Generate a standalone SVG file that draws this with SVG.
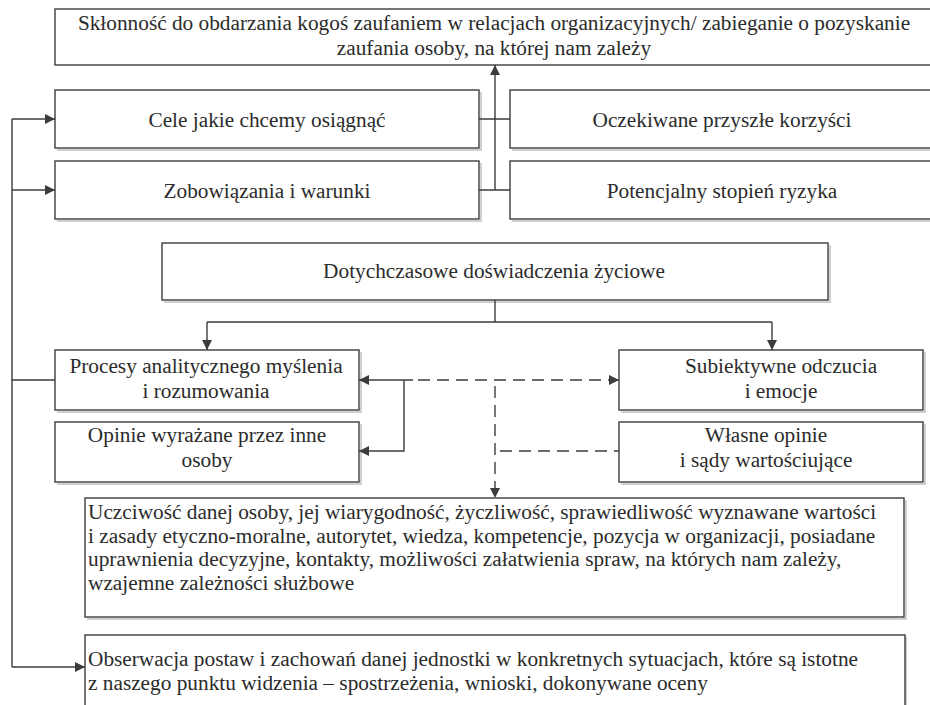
<svg xmlns="http://www.w3.org/2000/svg" width="930" height="705" viewBox="0 0 930 705">
<defs>
<style>
.box{fill:#fff;stroke:#3c3c3c;stroke-width:1.4}
.sh{fill:none;stroke:#d0d0d0;stroke-width:2}
.t{font-family:"Liberation Serif","Times New Roman",serif;font-size:21.3px;fill:#2b2b2b}
.c{text-anchor:middle}
.ln{fill:none;stroke:#3c3c3c;stroke-width:1.4}
.ds{stroke-dasharray:12 7}
</style>
<marker id="ah" viewBox="0 0 10 10" refX="10" refY="5" markerWidth="10" markerHeight="10" markerUnits="userSpaceOnUse" orient="auto">
<path d="M0,0 L10,5 L0,10 z" fill="#3c3c3c"/>
</marker>
</defs>
<rect width="930" height="705" fill="#fff"/>

<g id="n-top">
<rect class="box" x="55" y="9" width="890" height="56"/>
<text class="t c" x="494" y="30">Skłonność do obdarzania kogoś zaufaniem w relacjach organizacyjnych/ zabieganie o pozyskanie</text>
<text class="t c" x="494" y="55">zaufania osoby, na której nam zależy</text>
</g>
<g id="n-cele">
<path class="sh" d="M57,150 H481 V92"/>
<rect class="box" x="55" y="90" width="424" height="58"/>
<text class="t c" x="267" y="127">Cele jakie chcemy osiągnąć</text>
</g>
<g id="n-oczek">
<path class="sh" d="M512,150 H940"/>
<rect class="box" x="510" y="90" width="430" height="58"/>
<text class="t c" x="722" y="127">Oczekiwane przyszłe korzyści</text>
</g>
<g id="n-zobow">
<path class="sh" d="M57,221 H481 V163"/>
<rect class="box" x="55" y="161" width="424" height="58"/>
<text class="t c" x="267" y="198">Zobowiązania i warunki</text>
</g>
<g id="n-ryzyko">
<path class="sh" d="M512,221 H940"/>
<rect class="box" x="510" y="161" width="430" height="58"/>
<text class="t c" x="722" y="198">Potencjalny stopień ryzyka</text>
</g>
<g id="n-dotych">
<path class="sh" d="M164,302 H830 V245"/>
<rect class="box" x="162" y="243" width="666" height="57"/>
<text class="t c" x="494" y="278">Dotychczasowe doświadczenia życiowe</text>
</g>
<g id="n-procesy">
<path class="sh" d="M57,412 H361 V352"/>
<rect class="box" x="55" y="350" width="304" height="60"/>
<text class="t c" x="206" y="373">Procesy analitycznego myślenia</text>
<text class="t c" x="206" y="398">i rozumowania</text>
</g>
<g id="n-subiekt">
<path class="sh" d="M621,412 H925 V352"/>
<rect class="box" x="619" y="350" width="304" height="60"/>
<text class="t c" x="781" y="373">Subiektywne odczucia</text>
<text class="t c" x="781" y="398">i emocje</text>
</g>
<g id="n-opinie">
<path class="sh" d="M57,484 H361 V424"/>
<rect class="box" x="55" y="422" width="304" height="60"/>
<text class="t c" x="207" y="442">Opinie wyrażane przez inne</text>
<text class="t c" x="207" y="467">osoby</text>
</g>
<g id="n-wlasne">
<path class="sh" d="M621,484 H925 V424"/>
<rect class="box" x="619" y="422" width="304" height="60"/>
<text class="t c" x="766" y="442">Własne opinie</text>
<text class="t c" x="766" y="467">i sądy wartościujące</text>
</g>
<g id="n-uczc">
<path class="sh" d="M87,619 H906 V500"/>
<rect class="box" x="85" y="498" width="819" height="119"/>
<text class="t" x="88" y="519">Uczciwość danej osoby, jej wiarygodność, życzliwość, sprawiedliwość wyznawane wartości</text>
<text class="t" x="88" y="542.5">i zasady etyczno-moralne, autorytet, wiedza, kompetencje, pozycja w organizacji, posiadane</text>
<text class="t" x="88" y="566">uprawnienia decyzyjne, kontakty, możliwości załatwienia spraw, na których nam zależy,</text>
<text class="t" x="88" y="589.5">wzajemne zależności służbowe</text>
</g>
<g id="n-obs">
<path class="sh" d="M906,637 V710"/>
<rect class="box" x="85" y="635" width="820" height="90"/>
<text class="t" x="88" y="666">Obserwacja postaw i zachowań danej jednostki w konkretnych sytuacjach, które są istotne</text>
<text class="t" x="88" y="690">z naszego punktu widzenia – spostrzeżenia, wnioski, dokonywane oceny</text>
</g>

<g id="connectors">
<path class="ln" d="M55,380 H12 V667"/>
<path class="ln" d="M12,380 V119"/>
<path class="ln" d="M12,119 H55" marker-end="url(#ah)"/>
<path class="ln" d="M12,190 H55" marker-end="url(#ah)"/>
<path class="ln" d="M12,667 H85" marker-end="url(#ah)"/>
<path class="ln" d="M479,119 H510 M479,190 H510"/>
<path class="ln" d="M495,190 V65" marker-end="url(#ah)"/>
<path class="ln" d="M495,300 V322 M207,322 H772"/>
<path class="ln" d="M207,322 V350" marker-end="url(#ah)"/>
<path class="ln" d="M772,322 V350" marker-end="url(#ah)"/>
<path class="ln" d="M413,380 H359" marker-end="url(#ah)"/>
<path class="ln" d="M404,380 V451 H359" marker-end="url(#ah)"/>
<path class="ln ds" d="M418,380 H619" marker-end="url(#ah)"/>
<path class="ln ds" d="M495,386 V498" marker-end="url(#ah)"/>
<path class="ln ds" d="M500,451 H619"/>
</g>
</svg>
